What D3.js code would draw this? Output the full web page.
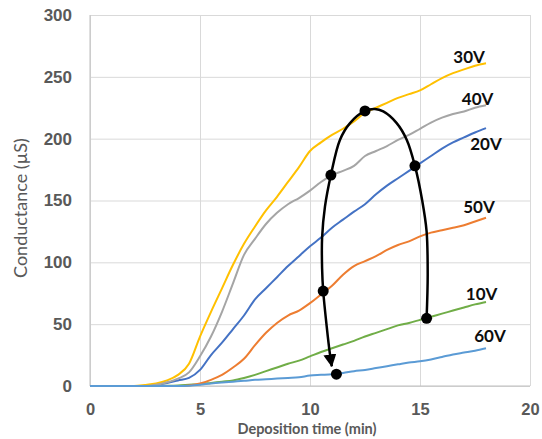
<!DOCTYPE html>
<html><head><meta charset="utf-8">
<script src="https://cdn.jsdelivr.net/npm/d3@7"></script>
<style>
html,body{margin:0;padding:0;background:#fff;}
svg{display:block;font-family:Lato,"Open Sans",sans-serif;}
</style></head>
<body><svg id="chart" width="542" height="439"></svg>
<script>
const times = [0,0.5,1,1.5,2,2.5,3,3.5,4,4.5,5,5.5,6,6.5,7,7.5,8,8.5,9,9.5,10,10.5,11,11.5,12,12.5,13,13.5,14,14.5,15,15.5,16,16.5,17,17.5,18];
const v10 = [0,0,0,0,0,0,0,0.2,0.5,1,1.5,2.5,3.5,4.5,6.5,9,12,15,18,20.5,24,27.5,30.5,33.5,36.5,40,43,46,49,51,53.5,56,58.5,61,63.5,66,68];
const v20 = [0,0,0,0,0,0,1,2.5,4.5,6.5,13,25,35,46,57,70,79,88,97,105,113,120,128,134.5,141,147,155,162,168,174,180,186,192,197,201,205,208.5];
const v30 = [0,0,0,0,0,0.8,2,4.5,9,18,40,60,79,98,115,129,142,153,165,177,190,197,203,208,214,221,225,229,233,236,239,244,249,253,256,259,261];
const v40 = [0,0,0,0,0,0,1,3,6,11,24,40,60,83,106,119,131,140,147,152,158,165,170.6,174,178,186,190,194,199,203,208,213,217,220,222,225,227];
const v50 = [0,0,0,0,0,0,0,0,0,0.5,2,5,9,15,22,33,43,51,57,61,67,74,81,90,97,101,105,110,114,117,121,124,126,128,130,133,136];
const v60 = [0,0,0,0,0,0,0,0,0,0.3,1,2,2.8,3.5,4.2,5,5.5,6,6.5,7,8.5,9,9.5,10.5,12,13,14.5,16,17.5,19,20,21.5,23.5,25.5,27,28.5,30.5];

const seriesNames = ["10V","20V","30V","40V","50V","60V"];
const seriesValues = [v10,v20,v30,v40,v50,v60];
const seriesColors = ["#70AD47","#4472C4","#FFC000","#A5A5A5","#ED7D31","#5B9BD5"];
// label anchor points in data units (time, conductance)
const labelT = [17.8,18.0,17.23,17.62,17.68,18.18];
const labelV = [69.5,190.8,261.2,227.2,139.9,35.8];

const xTicks = [0,5,10,15,20];
const yTicks = [0,50,100,150,200,250,300];

// annotation loop (time, conductance)
const loopT = [15.3,15.35,15.3,15.1,14.77,14.4,13.94,13.33,12.95,12.5,11.82,11.36,10.95,10.68,10.55,10.55,10.6,10.76,10.9,10.99];
const loopV = [54.7,90,125,150,178,199,212.6,222,224,222.4,212.6,199,170.6,145,120,95,76.8,48,26.6,16];
const dotT = [15.3,14.77,12.5,10.95,10.6,11.2];
const dotV = [54.7,178,222.4,170.6,76.8,9.6];

const svg = d3.select("#chart");
const L=90, R=530, T=15, B=386;
const x = d3.scaleLinear().domain([0,20]).range([L,R]);
const y = d3.scaleLinear().domain([0,300]).range([B,T]);

const gY = svg.append("g").attr("transform",`translate(${L},0)`)
  .call(d3.axisLeft(y).tickValues(yTicks).tickSize(-(R-L)).tickPadding(18));
gY.select(".domain").remove();
gY.selectAll(".tick line").attr("stroke","#d9d9d9").attr("stroke-width",1);
gY.selectAll(".tick text").attr("fill","#595959").attr("font-size",17).attr("font-weight","bold");

const gX = svg.append("g").attr("transform",`translate(0,${B})`)
  .call(d3.axisBottom(x).tickValues(xTicks).tickSize(-(B-T)).tickPadding(17));
gX.select(".domain").remove();
gX.selectAll(".tick line").attr("stroke","#d9d9d9").attr("stroke-width",1);
gX.selectAll(".tick text").attr("fill","#595959").attr("font-size",16.5).attr("font-weight","bold");

// axis lines
svg.append("line").attr("x1",L).attr("x2",L).attr("y1",T).attr("y2",B).attr("stroke","#bfbfbf");
svg.append("line").attr("x1",L).attr("x2",R).attr("y1",B).attr("y2",B).attr("stroke","#bfbfbf");

const line = d3.line().x((d,i)=>x(times[i])).y(d=>y(d)).curve(d3.curveMonotoneX);
seriesValues.forEach((vals,k)=>{
  svg.append("path").datum(vals).attr("d",line)
    .attr("fill","none").attr("stroke",seriesColors[k]).attr("stroke-width",2);
});

seriesNames.forEach((n,k)=>{
  svg.append("text").attr("x",x(labelT[k])).attr("y",y(labelV[k]))
    .attr("text-anchor","middle").attr("font-size",17).attr("font-weight","bold")
    .attr("fill","#0d0d0d").text(n);
});

// arrow marker
svg.append("defs").append("marker").attr("id","arr")
  .attr("markerUnits","userSpaceOnUse").attr("markerWidth",13).attr("markerHeight",13)
  .attr("viewBox","0 0 12 12").attr("refX",11).attr("refY",6).attr("orient","auto")
  .append("path").attr("d","M0,0 L12,6 L0,12 Z").attr("fill","#000");

const loopLine = d3.line().x((d,i)=>x(loopT[i])).y((d,i)=>y(loopV[i])).curve(d3.curveCatmullRom);
svg.append("path").datum(loopT).attr("d",loopLine)
  .attr("fill","none").attr("stroke","#000").attr("stroke-width",2.5).attr("marker-end","url(#arr)");

svg.selectAll(".dot").data(dotT).enter().append("circle")
  .attr("cx",d=>x(d)).attr("cy",(d,i)=>y(dotV[i])).attr("r",5.5).attr("fill","#000");

svg.append("text").attr("x",(L+R)/2-3).attr("y",434).attr("text-anchor","middle")
  .attr("font-size",14.5).attr("font-weight","bold").attr("fill","#595959").text("Deposition time (min)");
svg.append("text").attr("transform",`translate(27,208) rotate(-90)`).attr("text-anchor","middle")
  .attr("font-size",18).attr("fill","#595959").text("Conductance (µS)");
</script></body></html>
